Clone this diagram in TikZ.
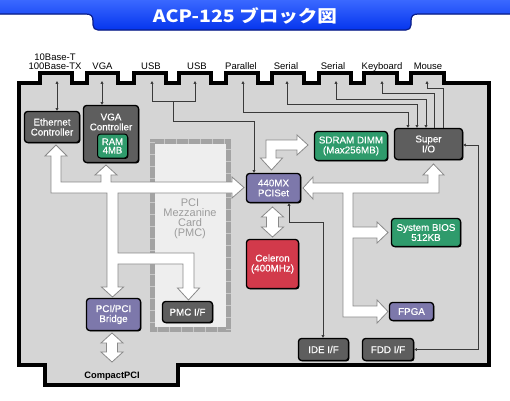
\documentclass[tikz,border=0pt]{standalone}
\usepackage{fontspec}
\setmainfont{Liberation Sans}
\newfontfamily\cjk{Noto Sans CJK JP}
\newfontfamily\nodefont[FakeBold=0.5]{Liberation Sans}
\usetikzlibrary{arrows.meta,shadows}
\definecolor{boardgray}{HTML}{D5D5D5}
\definecolor{chipgray}{HTML}{5E5E5E}
\definecolor{chipgreen}{HTML}{2F9B6C}
\definecolor{chippurple}{HTML}{7D78AB}
\definecolor{chipred}{HTML}{D23A4B}
\definecolor{pmcfill}{HTML}{EEEEEE}
\definecolor{pmcedge}{HTML}{A3A3A3}
\definecolor{pmctick}{HTML}{C8C8C8}
\definecolor{pmctextcol}{HTML}{9C9C9C}
\definecolor{arrowedge}{HTML}{8A8A8A}
\definecolor{wirecol}{HTML}{3A3A3A}
\definecolor{bluetop}{HTML}{3A68FF}
\definecolor{bluebot}{HTML}{0535EE}
\definecolor{blueedge}{HTML}{0A1E8C}
\tikzset{
  chip/.style={draw=black, line width=1.3pt, rounded corners=3pt, text=white,
    font=\nodefont\fontsize{9.8}{10}\selectfont, align=center, inner sep=0pt,
    drop shadow={shadow xshift=0.9pt, shadow yshift=-0.9pt, opacity=1, fill=black}},
  chiptext/.style={text=white, font=\nodefont\fontsize{9.8}{10}\selectfont, align=center, inner sep=0pt},
  conlabel/.style={font=\fontsize{9.5}{10}\selectfont, inner sep=0pt},
  bigarrow/.style={fill=white, draw=arrowedge, line width=0.8pt, line join=miter},
  wire/.style={draw=wirecol, line width=0.7pt},
  tipboth/.style={{Triangle[length=2.8pt,width=2.8pt]}-{Triangle[length=2.8pt,width=2.8pt]}},
  tipstart/.style={{Triangle[length=2.8pt,width=2.8pt]}-},
}
\begin{document}
\begin{tikzpicture}[x=1pt,y=-1pt]
\useasboundingbox (0,0) rectangle (510,400);
% title banner
\fill[top color=bluetop, bottom color=bluebot] (0,0) -- (510,0) -- (510,14) -- (418,14)
  .. controls (413,14) and (411,16) .. (411,21) -- (411,25)
  .. controls (411,28) and (409,30) .. (406,30) -- (98,30)
  .. controls (95,30) and (93,28) .. (93,25) -- (93,21)
  .. controls (93,16) and (91,14) .. (86,14) -- (0,14) -- cycle;
\draw[blueedge, line width=1.2pt] (510,14) -- (418,14)
  .. controls (413,14) and (411,16) .. (411,21) -- (411,25)
  .. controls (411,28) and (409,30) .. (406,30) -- (98,30)
  .. controls (95,30) and (93,28) .. (93,25) -- (93,21)
  .. controls (93,16) and (91,14) .. (86,14) -- (0,14);
\node[text=white, font=\cjk\bfseries\fontsize{17}{17}\selectfont, inner sep=0pt] (title) at (245,16) {\scalebox{1.15}[1]{ACP-125 ブロック図}};

% board
\draw[fill=boardgray, line width=4pt, line join=miter]
 (19,82.5) -- (40,82.5) -- (40,73) -- (72,73) -- (72,82.5)
 -- (87,82.5) -- (87,73) -- (118,73) -- (118,82.5)
 -- (134,82.5) -- (134,73) -- (166,73) -- (166,82.5)
 -- (179,82.5) -- (179,73) -- (211,73) -- (211,82.5)
 -- (226,82.5) -- (226,73) -- (258,73) -- (258,82.5)
 -- (272,82.5) -- (272,73) -- (304,73) -- (304,82.5)
 -- (319,82.5) -- (319,73) -- (351,73) -- (351,82.5)
 -- (364,82.5) -- (364,73) -- (397,73) -- (397,82.5)
 -- (411,82.5) -- (411,73) -- (444,73) -- (444,82.5)
 -- (489,82.5) -- (489,364.5) -- (178,364.5) -- (178,385) -- (45,385) -- (45,364.5) -- (19,364.5) -- cycle;

% connector labels
\node[conlabel, anchor=base] (l10t) at (55,60.5) {10Base-T};
\node[conlabel, anchor=base] (l100t) at (55,69.5) {100Base-TX};
\node[conlabel, anchor=base] (lvga) at (102.5,69.5) {VGA};
\node[conlabel, anchor=base] (lusba) at (151,69.5) {USB};
\node[conlabel, anchor=base] (lusbb) at (197,69.5) {USB};
\node[conlabel, anchor=base] (lpar) at (241,69.5) {Parallel};
\node[conlabel, anchor=base] (lsera) at (286,69.5) {Serial};
\node[conlabel, anchor=base] (lserb) at (333,69.5) {Serial};
\node[conlabel, anchor=base] (lkey) at (382,69.5) {Keyboard};
\node[conlabel, anchor=base] (lmouse) at (428,69.5) {Mouse};
\node[font=\bfseries\fontsize{9.3}{10}\selectfont, inner sep=0pt] (cpci) at (112,376) {CompactPCI};

% connector points
\coordinate (cE) at (57,81);
\coordinate (cV) at (102,81);
\coordinate (cUa) at (152,81);
\coordinate (cUb) at (195,81);
\coordinate (cP) at (243,81);
\coordinate (cSa) at (287,81);
\coordinate (cSb) at (336,81);
\coordinate (cK) at (382,81);
\coordinate (cM) at (427,81);

% PMC area
\draw[pmcedge, line width=4.5pt, fill=pmcfill] (152.5,141.5) rectangle (228.5,329.5);
\draw[pmctick, line width=4.5pt, dash pattern=on 1pt off 11pt] (152.5,141.5) rectangle (228.5,329.5);
\node[text=pmctextcol, font=\fontsize{11}{9.9}\selectfont, align=center, inner sep=0pt] (pmclabel) at (190,219) {PCI\\Mezzanine\\Card\\(PMC)};

% chips
\node[chip, fill=chipgray, minimum width=55pt, minimum height=31pt] (eth) at (52,127) {Ethernet\\Controller};
\node[chip, fill=chipgray, minimum width=55pt, minimum height=57pt] (vga) at (111,134) {};
\node[chiptext] (vgalabel) at (111,122) {VGA\\Controller};
\node[chip, fill=chipgreen, minimum width=30pt, minimum height=24pt, line width=1pt, font=\nodefont\fontsize{9.5}{8.5}\selectfont] (ram) at (112.5,146) {RAM\\4MB};
\node[chip, fill=chippurple, minimum width=54pt, minimum height=29pt] (mx) at (273.5,188) {440MX\\PCISet};
\node[chip, fill=chipred, minimum width=52pt, minimum height=49pt] (cel) at (272.5,264) {Celeron\\(400MHz)};
\node[chip, fill=chipgreen, minimum width=73pt, minimum height=29pt] (sdram) at (351,146) {SDRAM DIMM\\(Max256MB)};
\node[chip, fill=chipgray, minimum width=68pt, minimum height=31pt] (sio) at (428.5,144) {Super\\I/O};
\node[chip, fill=chipgreen, minimum width=69pt, minimum height=28pt] (bios) at (426,232.5) {System BIOS\\512KB};
\node[chip, fill=chippurple, minimum width=44pt, minimum height=18pt] (fpga) at (411.5,311.5) {FPGA};
\node[chip, fill=chipgray, minimum width=50pt, minimum height=22pt] (ide) at (323.5,349.5) {IDE I/F};
\node[chip, fill=chipgray, minimum width=51pt, minimum height=22pt] (fdd) at (388,349.5) {FDD I/F};
\node[chip, fill=chippurple, minimum width=54pt, minimum height=32pt] (br) at (113.5,314.5) {PCI/PCI\\Bridge};
\node[chip, fill=chipgray, minimum width=50pt, minimum height=21pt] (pmcif) at (187.5,312) {PMC I/F};

% thin wires
\draw[wire, tipboth] (cE) -- (cE |- eth.north);
\draw[wire, tipboth] (cV) -- (cV |- vga.north);
\draw[wire, tipboth] (cUa) -- (152,101) -- (195,101) -- (cUb);
\draw[wire, -{Triangle[length=2.8pt,width=2.8pt]}] (173,101) -- (173,121) -- (254,121) -- (254,121 |- mx.north);
\draw[wire, tipboth] (cP) -- (243,112) -- (408,112) -- (408,112 |- sio.north);
\draw[wire, tipboth] (cSa) -- (287,104) -- (417,104) -- (417,104 |- sio.north);
\draw[wire, tipboth] (cSb) -- (336,99) -- (426,99) -- (426,99 |- sio.north);
\draw[wire, tipstart] (cK) -- (382,93) -- (434,93) -- (434,93 |- sio.north);
\draw[wire, tipstart] (cM) -- (427,88) -- (443,88) -- (443,88 |- sio.north);
\draw[wire, tipboth] (289,188 |- mx.south) -- (289,222) -- (323,222) -- (323,222 |- ide.north);
\draw[wire, tipboth] (fdd.east) -- (478,349.5) -- (478,145) -- (478,145 -| sio.east);

% big white arrows
\draw[bigarrow] (56,145) -- (67,156) -- (61,156) -- (61,182) -- (101,182) -- (101,175) -- (95,175)
 -- (106,165) -- (117,175) -- (111,175) -- (111,182) -- (232,182) -- (232,177) -- (244,187.5)
 -- (232,198) -- (232,193) -- (118,193) -- (118,253) -- (194,253) -- (194,288) -- (199.5,288)
 -- (188.5,300) -- (177.5,288) -- (183,288) -- (183,264) -- (118,264) -- (118,287) -- (123.5,287)
 -- (112.5,297) -- (101.5,287) -- (107,287) -- (107,193) -- (51,193) -- (51,156) -- (45,156) -- cycle;
\draw[bigarrow] (271.5,170) -- (260.5,158) -- (266,158) -- (266,140) -- (297,140) -- (297,135)
 -- (308,145) -- (297,155) -- (297,150) -- (276,150) -- (276,158) -- (282.5,158) -- cycle;
\draw[bigarrow] (272.5,207) -- (283.5,217) -- (278.5,217) -- (278.5,227) -- (283.5,227) -- (272.5,237)
 -- (261.5,227) -- (266.5,227) -- (266.5,217) -- (261.5,217) -- cycle;
\draw[bigarrow] (112,333) -- (123,343) -- (117.5,343) -- (117.5,352) -- (123,352) -- (112,362)
 -- (101,352) -- (106.5,352) -- (106.5,343) -- (101,343) -- cycle;
\draw[bigarrow] (303,188) -- (313,177) -- (313,183) -- (428,183) -- (428,175) -- (423,175) -- (433.5,164)
 -- (444,175) -- (439,175) -- (439,193) -- (353,193) -- (353,227) -- (377,227) -- (377,222) -- (388,232.5)
 -- (377,243) -- (377,238) -- (353,238) -- (353,306) -- (377,306) -- (377,300) -- (388,311.5) -- (377,323)
 -- (377,317) -- (343,317) -- (343,193) -- (313,193) -- (313,199) -- cycle;
\end{tikzpicture}
\end{document}
